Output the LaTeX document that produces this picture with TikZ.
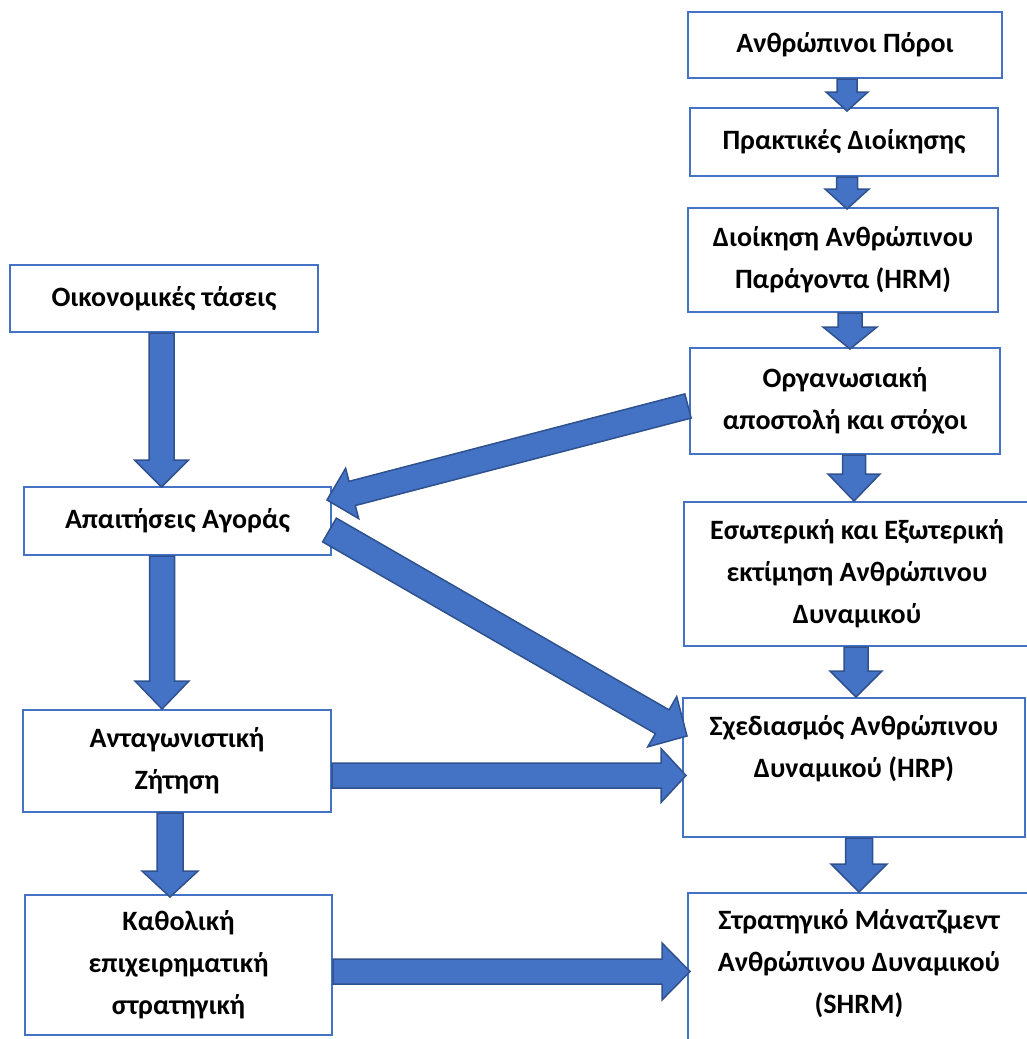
\documentclass[tikz,border=0pt]{standalone}
\usepackage{fontspec}
\setmainfont{Carlito}
\usetikzlibrary{calc}
\definecolor{boxblue}{HTML}{4472C4}
\definecolor{arrowedge}{HTML}{2F528F}
\tikzset{
  box/.style={draw=boxblue,line width=2pt,fill=white,align=center,inner sep=0pt,
              font=\fontsize{28}{42}\selectfont\bfseries},
  blockarrow/.style={fill=boxblue,draw=arrowedge,line width=1.5pt,line join=miter},
}
% block arrow: from, to, shaft half width, head half width, head length
\newcommand{\blockarrow}[5]{%
  \path (#1) coordinate (ba-s) (#2) coordinate (ba-e);
  \path ($(ba-e)!#5!(ba-s)$) coordinate (ba-h);
  \draw[blockarrow] ($(ba-s)!#3!90:(ba-e)$) -- ($(ba-h)!#3!90:(ba-e)$)
    -- ($(ba-h)!#4!90:(ba-e)$) -- (ba-e) -- ($(ba-h)!#4!-90:(ba-e)$)
    -- ($(ba-h)!#3!-90:(ba-e)$) -- ($(ba-s)!#3!-90:(ba-e)$) -- cycle;
}

\begin{document}
\begin{tikzpicture}[x=1pt,y=-1pt]
  \useasboundingbox (0,0) rectangle (1026,1039);

  % right column
  \node[box,minimum width=314pt,minimum height=66pt] (poroi) at (845,45) {Ανθρώπινοι Πόροι};
  \node[box,minimum width=308pt,minimum height=68pt] (praktikes) at (844,142) {Πρακτικές Διοίκησης};
  \node[box,minimum width=310pt,minimum height=104pt] (hrm) at (843,260) {Διοίκηση Ανθρώπινου\\Παράγοντα (HRM)};
  \node[box,minimum width=310pt,minimum height=106pt] (apostoli) at (845,401) {Οργανωσιακή\\αποστολή και στόχοι};
  \node[box,minimum width=346pt,minimum height=144pt] (ektimisi) at (857,574) {Εσωτερική και Εξωτερική\\εκτίμηση Ανθρώπινου\\Δυναμικού};
  \node[box,minimum width=342pt,minimum height=139pt,text depth=42pt] (hrp) at (854,767.5) {Σχεδιασμός Ανθρώπινου\\Δυναμικού (HRP)};
  \node[box,minimum width=342pt,minimum height=157pt,text depth=20pt] (shrm) at (859,971.5) {Στρατηγικό Μάνατζμεντ\\Ανθρώπινου Δυναμικού\\(SHRM)};

  % left column
  \node[box,minimum width=308pt,minimum height=67pt] (taseis) at (164,298.5) {Οικονομικές τάσεις};
  \node[box,minimum width=307pt,minimum height=68pt] (agora) at (177.5,521) {Απαιτήσεις Αγοράς};
  \node[box,minimum width=308pt,minimum height=102pt] (zitisi) at (177,761) {Ανταγωνιστική\\Ζήτηση};
  \node[box,minimum width=307pt,minimum height=140pt] (stratigiki) at (178.5,965) {Καθολική\\επιχειρηματική\\στρατηγική};

  % arrows
  \blockarrow{[xshift=2pt]poroi.south}{[xshift=3pt,yshift=-4pt]praktikes.north}{10pt}{21pt}{19pt}
  \blockarrow{[xshift=3pt]praktikes.south}{[xshift=4pt,yshift=-2pt]hrm.north}{10.5pt}{22pt}{20pt}
  \blockarrow{[xshift=7pt]hrm.south}{[xshift=5pt,yshift=-2pt]apostoli.north}{12pt}{27pt}{22pt}
  \blockarrow{[xshift=9pt]apostoli.south}{[xshift=-3pt]ektimisi.north}{11.5pt}{26pt}{27pt}
  \blockarrow{[xshift=-1pt]ektimisi.south}{[xshift=2pt]hrp.north}{12pt}{26pt}{26pt}
  \blockarrow{[xshift=5pt]hrp.south}{shrm.north}{13.5pt}{28pt}{28pt}

  \blockarrow{[xshift=-2.5pt]taseis.south}{[xshift=-16pt,yshift=-1pt]agora.north}{12.5pt}{27pt}{27pt}
  \blockarrow{[xshift=-15.5pt]agora.south}{[xshift=-15pt]zitisi.north}{12.5pt}{27pt}{28pt}
  \blockarrow{[xshift=-7pt]zitisi.south}{[xshift=-8.5pt,yshift=-3pt]stratigiki.north}{13pt}{28pt}{26pt}

  \blockarrow{[yshift=-14.5pt]zitisi.east}{[xshift=4pt,yshift=-8pt]hrp.west}{12.5pt}{27pt}{25pt}
  \blockarrow{[yshift=-6.5pt]stratigiki.east}{[xshift=3pt]shrm.west}{12.5pt}{28.5pt}{28pt}
  \blockarrow{[xshift=-2.5pt,yshift=-9pt]agora.east}{[xshift=5pt,yshift=31.5pt]hrp.west}{13.7pt}{29pt}{28.6pt}
  \blockarrow{[xshift=-1pt,yshift=-5pt]apostoli.west}{[xshift=-5pt,yshift=21pt]agora.east}{12.5pt}{26pt}{26pt}
\end{tikzpicture}
\end{document}
